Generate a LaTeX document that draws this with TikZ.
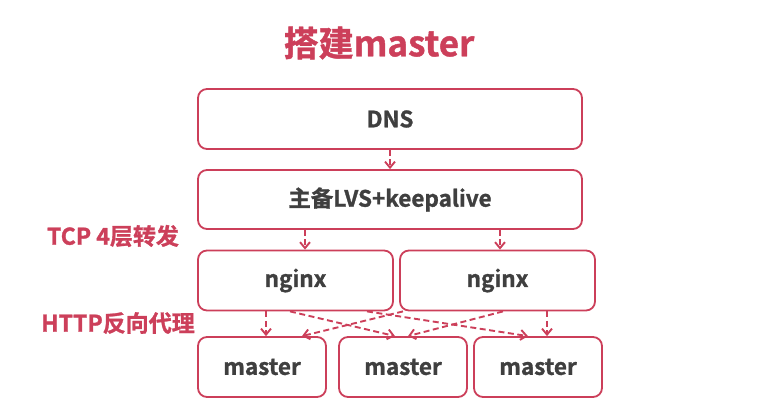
\documentclass[tikz,border=0pt]{standalone}
\usepackage{fontspec}
\setmainfont{Noto Sans CJK SC}[BoldFont={* Bold}, BoldFeatures={FakeBold=1.2}]
\usetikzlibrary{arrows.meta}
\definecolor{cred}{HTML}{CC3F5A}
\definecolor{ctext}{HTML}{3F3F3F}
\begin{document}
\begin{tikzpicture}[x=1pt,y=-1pt,
  box/.style={draw=cred, line width=1.8pt, rounded corners=9pt, fill=white, font=\bfseries\fontsize{22.5}{26}\selectfont, text=ctext},
  lab/.style={font=\bfseries\fontsize{23}{26}\selectfont, text=cred},
  arr/.style={draw=cred, line width=1.9pt, dash pattern=on 6pt off 3.5pt, -{Straight Barb[length=6pt,width=10pt,line width=1.9pt]}}]
\useasboundingbox (0,0) rectangle (765,415);
\node[font=\bfseries\fontsize{35}{40}\selectfont, text=cred] (title) at (379,43) {搭建master};
\node[box, minimum width=384pt, minimum height=60pt] (dns) at (390,119) {DNS};
\node[box, minimum width=384pt, minimum height=59pt] (lvs) at (390,199.5) {主备LVS+keepalive};
\node[box, minimum width=195pt, minimum height=60pt] (ng1) at (295.5,280.5) {nginx};
\node[box, minimum width=195pt, minimum height=60pt] (ng2) at (497.5,280.5) {nginx};
\node[box, minimum width=128pt, minimum height=60pt] (m1) at (262,367) {master};
\node[box, minimum width=128pt, minimum height=60pt] (m2) at (403,367) {master};
\node[box, minimum width=128pt, minimum height=60pt] (m3) at (538,367) {master};
\node[lab] (tcp) at (113,236) {TCP 4层转发};
\node[lab] (http) at (118,323) {HTTP反向代理};
\draw[arr] (dns.south -| 390,0) -- (lvs.north -| 390,0);
\draw[arr] (lvs.south -| 305,0) -- (ng1.north -| 305,0);
\draw[arr] (lvs.south -| 500,0) -- (ng2.north -| 500,0);
\draw[arr] (ng1.south -| 266,0) -- (m1.north -| 266,0);
\draw[arr] (ng1.south -| 290,0) -- (m2.north -| 395,0);
\draw[arr] (ng1.south -| 367,0) -- (m3.north -| 528,0);
\draw[arr] (ng2.south -| 403,0) -- (m1.north -| 302,0);
\draw[arr] (ng2.south -| 503,0) -- (m2.north -| 408,0);
\draw[arr] (ng2.south -| 547,0) -- (m3.north -| 547,0);
\end{tikzpicture}
\end{document}
